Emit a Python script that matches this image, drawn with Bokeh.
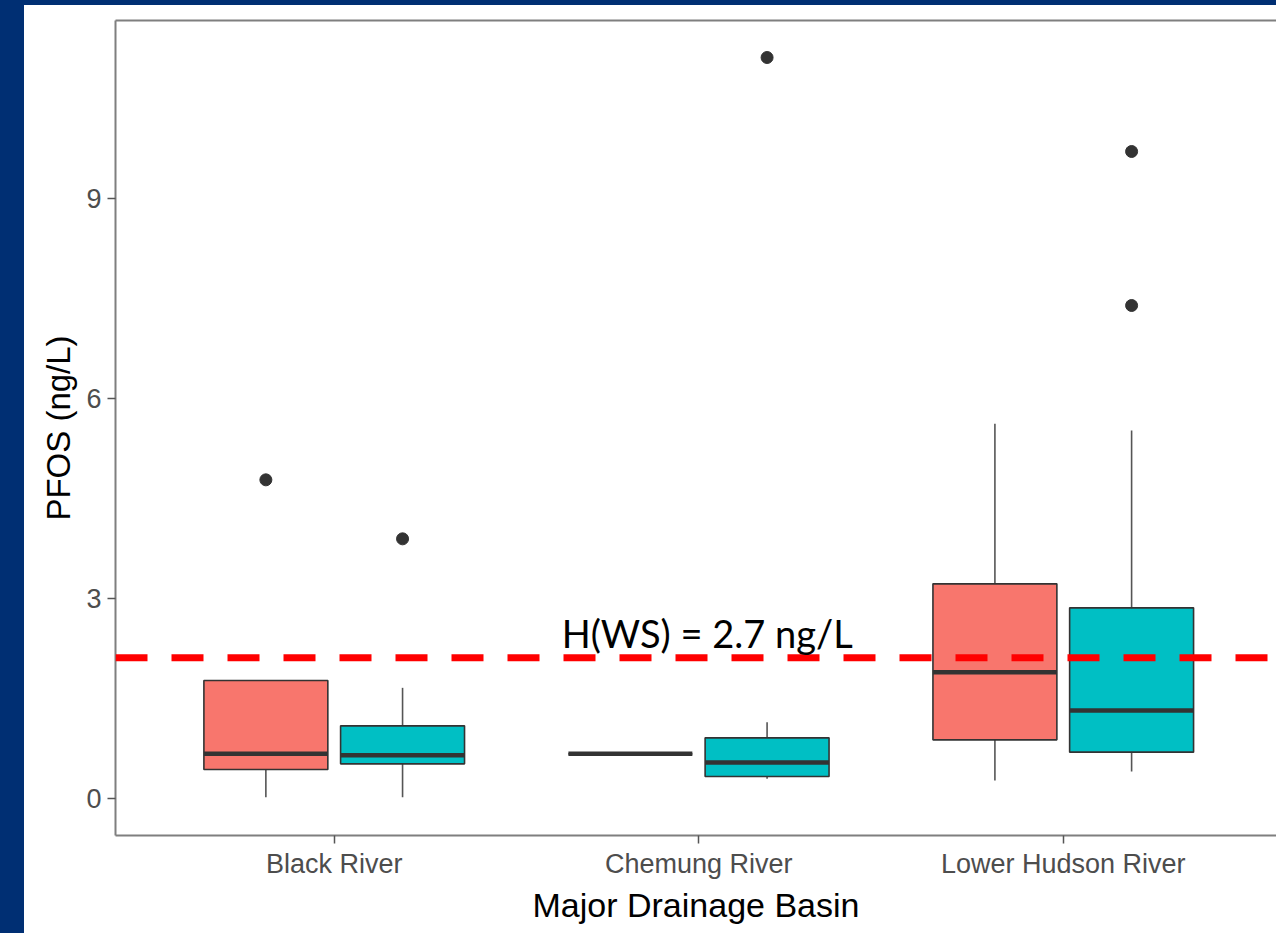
from bokeh.plotting import figure
from bokeh.models import ColumnDataSource, Span, Label, LinearAxis, FixedTicker, Range1d, Div
from bokeh.layouts import row, column
from bokeh.embed import file_html
from bokeh.resources import INLINE

# ---------------- data ----------------
basins = ["Black River", "Chemung River", "Lower Hudson River"]

red_lo = [0.02, 0.67, 0.27]
red_q1 = [0.435, 0.67, 0.88]
red_med = [0.67, 0.67, 1.895]
red_q3 = [1.77, 0.67, 3.22]
red_hi = [1.77, 0.67, 5.62]
red_out_basin = [0]
red_out_val = [4.78]

teal_lo = [0.02, 0.295, 0.405]
teal_q1 = [0.52, 0.33, 0.695]
teal_med = [0.65, 0.54, 1.32]
teal_q3 = [1.09, 0.91, 2.86]
teal_hi = [1.66, 1.145, 5.52]
teal_out_basin = [0, 1, 2, 2]
teal_out_val = [3.895, 11.115, 9.705, 7.395]

y_ticks = [0, 3, 6, 9]
guide_value = 2.11
guide_text = "H(WS) = 2.7 ng/L"

# ---------------- figure ----------------
RED = "#F8766D"
TEAL = "#00BFC4"
DARK = "#333333"
GRAY_AX = "#7F7F7F"
TICK_TXT = "#4D4D4D"
NAVY = "#002F73"

p = figure(width=1252, height=928, output_backend="svg", toolbar_location=None,
           x_range=Range1d(0.4, 3.585), y_range=Range1d(-0.555, 11.67),
           min_border_left=91, min_border_top=15, min_border_bottom=98, min_border_right=0,
           background_fill_color="white", border_fill_color="white")
p.outline_line_color = None
p.grid.visible = False

dodge = 0.1875
box_w = 0.34


def draw_group(lo, q1, med, q3, hi, ob, ov, offset, color):
    xs = [i + 1 + offset for i in range(len(basins))]
    src = ColumnDataSource(dict(x=xs, xl=[x - box_w / 2 for x in xs], xr=[x + box_w / 2 for x in xs],
                                lo=lo, q1=q1, med=med, q3=q3, hi=hi))
    p.segment(x0="x", y0="q3", x1="x", y1="hi", source=src, line_color="#555555", line_width=1.6)
    p.segment(x0="x", y0="lo", x1="x", y1="q1", source=src, line_color="#555555", line_width=1.6)
    p.vbar(x="x", bottom="q1", top="q3", width=box_w, source=src,
           fill_color=color, line_color=DARK, line_width=1.6)
    p.segment(x0="xl", y0="med", x1="xr", y1="med", source=src, line_color=DARK, line_width=4.5)
    osrc = ColumnDataSource(dict(x=[b + 1 + offset for b in ob], y=ov))
    p.scatter(x="x", y="y", source=osrc, size=12, fill_color=DARK, line_color=DARK)


draw_group(red_lo, red_q1, red_med, red_q3, red_hi, red_out_basin, red_out_val, -dodge, RED)
draw_group(teal_lo, teal_q1, teal_med, teal_q3, teal_hi, teal_out_basin, teal_out_val, dodge, TEAL)

p.add_layout(Span(location=guide_value, dimension="width", line_color="#FF0000",
                  line_width=7, line_dash="32 24"))
p.add_layout(Label(x=1.624, y=2.49, text=guide_text, text_baseline="alphabetic",
                   text_font="Lato", text_font_size="38px", text_color="black"))

# axes
xa = p.xaxis[0]
xa.ticker = FixedTicker(ticks=[1, 2, 3])
xa.major_label_overrides = {i + 1: b for i, b in enumerate(basins)}
xa.axis_label = "Major Drainage Basin"
ya = p.yaxis[0]
ya.ticker = FixedTicker(ticks=y_ticks)
ya.axis_label = "PFOS (ng/L)"

for ax in (xa, ya):
    ax.axis_line_color = GRAY_AX
    ax.axis_line_width = 2
    ax.major_tick_line_color = "#555555"
    ax.major_tick_line_width = 1.5
    ax.major_tick_in = 0
    ax.major_tick_out = 8
    ax.minor_tick_line_color = None
    ax.major_label_text_font = "Arial"
    ax.major_label_text_font_size = "27px"
    ax.major_label_text_color = TICK_TXT
    ax.axis_label_text_font = "Arial"
    ax.axis_label_text_font_style = "normal"
    ax.axis_label_text_color = "black"
xa.axis_label_text_font_size = "34px"
ya.axis_label_text_font_size = "33px"
xa.major_label_standoff = 5
xa.axis_label_standoff = 4
ya.major_label_standoff = 6
ya.axis_label_standoff = 6

top = LinearAxis(ticker=FixedTicker(ticks=[]), axis_line_color=GRAY_AX, axis_line_width=2,
                 major_tick_in=0, major_tick_out=0, minor_tick_in=0, minor_tick_out=0,
                 major_label_text_font_size="0px")
p.add_layout(top, "above")

strip = Div(width=24, height=928, margin=0, styles={"background-color": NAVY})
top_strip = Div(width=1276, height=5, margin=0, styles={"background-color": NAVY})
layout = column(top_strip, row(strip, p, spacing=0), spacing=0)

open("out.html", "w").write(file_html(layout, INLINE))
